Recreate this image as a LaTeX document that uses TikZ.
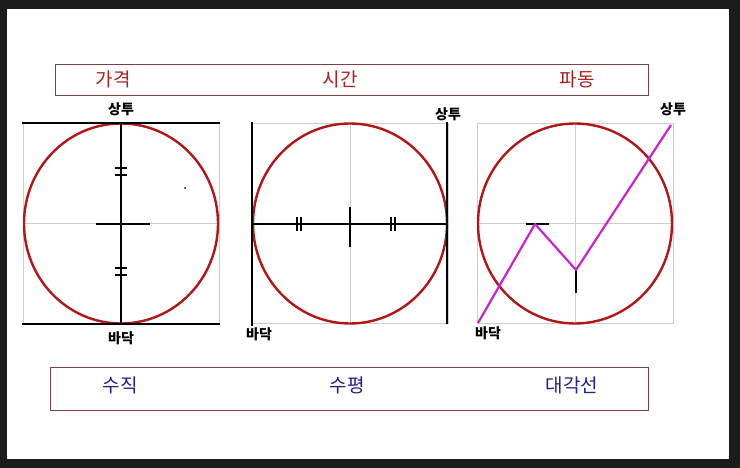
\documentclass[tikz,border=0pt]{standalone}
\usepackage{fontspec}
\newfontfamily\kr{Noto Sans CJK KR}
\usetikzlibrary{positioning,calc}
\definecolor{myframe}{RGB}{28,28,28}
\definecolor{myred}{RGB}{178,22,22}
\definecolor{mytext}{RGB}{172,32,32}
\definecolor{myblue}{RGB}{32,32,140}
\definecolor{mybox}{RGB}{128,64,72}
\definecolor{mygrid}{RGB}{205,205,205}
\definecolor{mypink}{RGB}{204,34,204}

\begin{document}
\begin{tikzpicture}[x=1pt,y=-1pt,
        every node/.style={inner sep=0pt},
        title/.style={font=\kr\fontsize{19}{19}\selectfont},
        marklabel/.style={font=\kr\bfseries\fontsize{14}{14}\selectfont},
        gridline/.style={mygrid,line width=0.8pt},
        ring/.style={myred,line width=2.4pt},
        bar/.style={black,line width=1.6pt},
        wave/.style={mypink,line width=2.2pt}
      ]
      % the frame
      \fill[myframe] (0,0) rectangle (740,468);
      \fill[white] (7,9) rectangle (729,459);

      % the upper box
      \draw[mybox,line width=1pt] (55,65) rectangle (648,96);
      \node[title,mytext] (price) at (113,79) {가격};
      \node[title,mytext] (time) at (340,79) {시간};
      \node[title,mytext] (cycle) at (577,79) {파동};

      % the lower box
      \draw[mybox,line width=1pt] (50,367) rectangle (648,410);
      \node[title,myblue] (vert) at (120,385) {수직};
      \node[title,myblue] (horiz) at (347,385) {수평};
      \node[title,myblue] (diag) at (572,385) {대각선};

      % the three panels
      \foreach \cx in {121,350,575} {
        \draw[gridline] ({\cx-98},123) rectangle ({\cx+98},323);
        \draw[gridline] ({\cx-98},223.5) -- ({\cx+98},223.5);
        \draw[gridline] (\cx,123) -- (\cx,323);
        \draw[ring] (\cx,223.5) ellipse [x radius=97,y radius=100];
      }

      % the vertical panel
      \draw[bar] (22,123) -- (220,123);
      \draw[bar] (22,324) -- (220,324);
      \draw[bar] (121,123) -- (121,324);
      \draw[bar] (96,224) -- (150,224);
      \foreach \y in {168,175,268,275}
        \draw[bar] (115,\y) -- (127,\y);
      \fill (185,188) circle (1pt);
      \node[marklabel] (top1) at (121,109) {상투};
      \node[marklabel] (bottom1) at (121,338) {바닥};

      % the horizontal panel
      \draw[bar] (252,122) -- (252,326);
      \draw[bar] (447,122) -- (447,324);
      \draw[bar] (252,224) -- (447,224);
      \draw[bar] (350,207) -- (350,247);
      \foreach \x in {297,301,391,395}
        \draw[bar] (\x,217) -- (\x,231);
      \node[marklabel] (top2) at (448,114) {상투};
      \node[marklabel] (bottom2) at (259,334) {바닥};

      % the diagonal panel
      \coordinate (low) at (478,323);
      \coordinate (peak) at (535,224);
      \coordinate (dip) at (576,270);
      \coordinate (high) at (671,125);
      \draw[bar] (526,224) -- (549,224);
      \draw[bar] (dip) -- (576,293);
      \draw[wave,line join=round] (low) -- (peak) -- (dip) -- (high);
      \node[marklabel] (top3) at (673,109) {상투};
      \node[marklabel] (bottom3) at (488,333) {바닥};
\end{tikzpicture}
\end{document}
